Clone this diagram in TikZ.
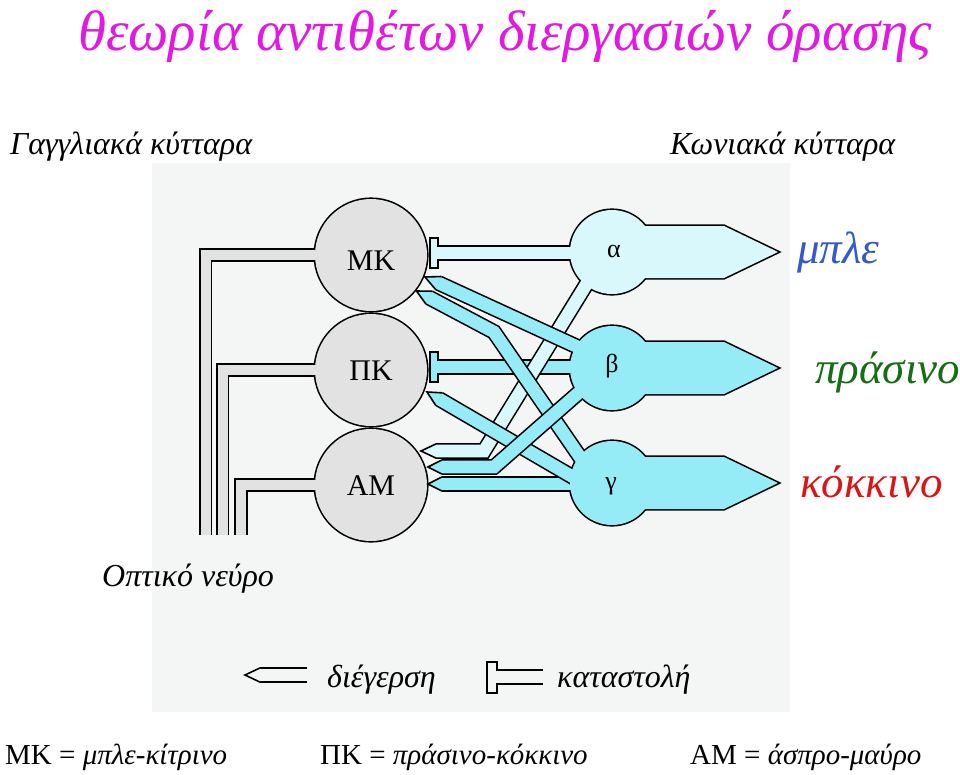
\documentclass[tikz,border=0pt]{standalone}
\usepackage{fontspec}
\setmainfont{Liberation Serif}
\usetikzlibrary{calc}
\definecolor{bgc}{RGB}{244,245,245}
\definecolor{gcell}{RGB}{226,226,226}
\definecolor{palec}{RGB}{216,248,252}
\definecolor{cyanc}{RGB}{150,236,246}
\definecolor{titlec}{RGB}{225,25,225}
\definecolor{bluec}{RGB}{50,90,200}
\definecolor{greenc}{RGB}{20,110,20}
\definecolor{redc}{RGB}{220,20,20}
\newcommand\tipp[3]{%
  \fill[#1] ($(#2)!7.1pt!90:(#3)$) -- (#3) -- ($(#2)!7.1pt!-90:(#3)$) -- cycle;
  \draw[edge] ($(#2)!7.1pt!90:(#3)$) -- (#3) -- ($(#2)!7.1pt!-90:(#3)$);}
\begin{document}
\begin{tikzpicture}[x=1pt,y=-1pt,
  edge/.style={draw=black,line width=1.6pt},
  strip/.style={draw=black,line width=1.6pt,double=#1,double distance=12.6pt},
  axon/.style={draw=black,line width=1.8pt,double=gcell,double distance=10pt},
  tbar/.style={draw=black,line width=1.6pt,fill=#1},
  outl/.style={draw=black,line width=3.2pt},
  lab/.style={font=\itshape\fontsize{32}{36}\selectfont,anchor=base west,inner sep=0pt},
  big/.style={font=\itshape\fontsize{45}{48}\selectfont,anchor=base west,inner sep=0pt},
  bot/.style={font=\fontsize{29}{32}\selectfont,anchor=base west,inner sep=0pt},
  clab/.style={font=\fontsize{30}{34}\selectfont,inner sep=0pt},
  conelab/.style={font=\fontsize{26}{28}\selectfont,inner sep=0pt}]
\useasboundingbox (0,0) rectangle (960,774);
\fill[white] (0,0) rectangle (960,774);
\fill[bgc] (152,163) rectangle (790,712);

% ganglion cells
\coordinate (MK) at (371,255);
\coordinate (PK) at (371,370);
\coordinate (AM) at (371,485);
\coordinate (MKax) at (205.5,535);
\coordinate (PKax) at (222.5,535);
\coordinate (AMax) at (241,535);
\foreach \c in {MK,PK,AM} \draw[outl] (\c) circle[radius=56];
\draw[axon] (MK) -| (MKax);
\draw[axon] (PK) -| (PKax);
\draw[axon] (AM) -| (AMax);
\foreach \c in {MK,PK,AM} \fill[gcell] (\c) circle[radius=56];

% cones
\coordinate (A) at (612,252);
\coordinate (B) at (612,368);
\coordinate (G) at (612,483);
\foreach \c in {A,B,G} {
  \draw[outl] (\c) circle[radius=42];
  \draw[outl] ($(\c)+(30,-26)$) -- ($(\c)+(112,-26)$) -- ($(\c)+(166,0)$) -- ($(\c)+(112,26)$) -- ($(\c)+(30,26)$);
}

% inhibitory strips
\draw[tbar=palec] (430,238) rectangle (438,268);
\coordinate (tA) at (437,253);
\draw[strip=palec] (tA) -- (tA -| A);
\draw[tbar=cyanc] (430,352) rectangle (438,382);
\coordinate (tB) at (437,367);
\draw[strip=cyanc] (tB) -- (tB -| B);

% gamma -> AM
\coordinate (s7) at (442,484);
\coordinate (t7) at (428,484);
\draw[strip=cyanc] (s7) -- (s7 -| G);
\tipp{cyanc}{s7}{t7}
% alpha -> AM
\coordinate (s3a) at (589,280);
\coordinate (s3b) at (484,451);
\coordinate (s3c) at (436,451);
\coordinate (t3) at (421,451);
\draw[strip=palec] (s3a) -- (s3b) -- (s3c);
\tipp{palec}{s3c}{t3}
% gamma -> PK
\coordinate (s5) at (439.1,399);
\coordinate (e5) at (578,480);
\coordinate (t5) at (427,392);
\draw[strip=cyanc] (e5) -- (s5);
\tipp{cyanc}{s5}{t5}
% gamma -> MK
\coordinate (s2) at (429,297.5);
\coordinate (b2) at (494,332);
\coordinate (e2) at (582,460);
\coordinate (t2) at (416.5,291);
\draw[strip=cyanc] (e2) -- (b2) -- (s2);
\tipp{cyanc}{s2}{t2}
% beta -> AM
\coordinate (s6) at (442,467);
\coordinate (b6) at (494,467);
\coordinate (e6) at (583,389);
\coordinate (t6) at (428,467);
\draw[strip=cyanc] (e6) -- (b6) -- (s6);
\tipp{cyanc}{s6}{t6}
% beta -> MK
\coordinate (s1) at (438.5,283);
\coordinate (e1) at (580,348);
\coordinate (t1) at (425,277);
\draw[strip=cyanc] (e1) -- (s1);
\tipp{cyanc}{s1}{t1}

% cone fills
\foreach \c/\col in {A/palec,B/cyanc,G/cyanc} {
  \fill[\col] (\c) circle[radius=42];
  \fill[\col] ($(\c)+(25,-26)$) -- ($(\c)+(112,-26)$) -- ($(\c)+(166,0)$) -- ($(\c)+(112,26)$) -- ($(\c)+(25,26)$) -- cycle;
}

% cell labels
\node[clab] (lMK) at (371,261) {ΜΚ};
\node[clab] (lPK) at (371,371) {ΠΚ};
\node[clab] (lAM) at (371,486) {ΑΜ};
\node[conelab] (la) at (614,251) {α};
\node[conelab] (lb) at (612,366) {β};
\node[conelab] (lg) at (611,486) {γ};

% legend
\coordinate (lgE1) at (307,675);
\coordinate (lgE2) at (260,675);
\coordinate (lgE3) at (245,675);
\draw[strip=bgc] (lgE1) -- (lgE2);
\tipp{bgc}{lgE2}{lgE3}
\draw[tbar=bgc] (487,662) rectangle (497,693);
\coordinate (lgI1) at (496,677);
\coordinate (lgI2) at (543,677);
\draw[strip=bgc] (lgI1) -- (lgI2);
\node[lab] (tdie) at (327,687) {διέγερση};
\node[lab] (tkat) at (557,687) {καταστολή};

% texts
\node[font=\itshape\fontsize{57}{60}\selectfont,anchor=base west,inner sep=0pt,text=titlec] (title) at (78,50) {θεωρία αντιθέτων διεργασιών όρασης};
\node[lab] (tgang) at (10,154) {Γαγγλιακά κύτταρα};
\node[lab] (tcone) at (670,154) {Κωνιακά κύτταρα};
\node[big,text=bluec] (tblue) at (797,263) {μπλε};
\node[big,text=greenc] (tgreen) at (815,383) {πράσινο};
\node[big,text=redc] (tred) at (800,497) {κόκκινο};
\node[lab] (topt) at (102,586) {Οπτικό νεύρο};
\node[bot] (b1) at (5,764) {ΜΚ = \textit{μπλε-κίτρινο}};
\node[bot] (b2t) at (320,764) {ΠΚ = \textit{πράσινο-κόκκινο}};
\node[bot] (b3) at (690,764) {ΑΜ = \textit{άσπρο-μαύρο}};
\end{tikzpicture}
\end{document}
